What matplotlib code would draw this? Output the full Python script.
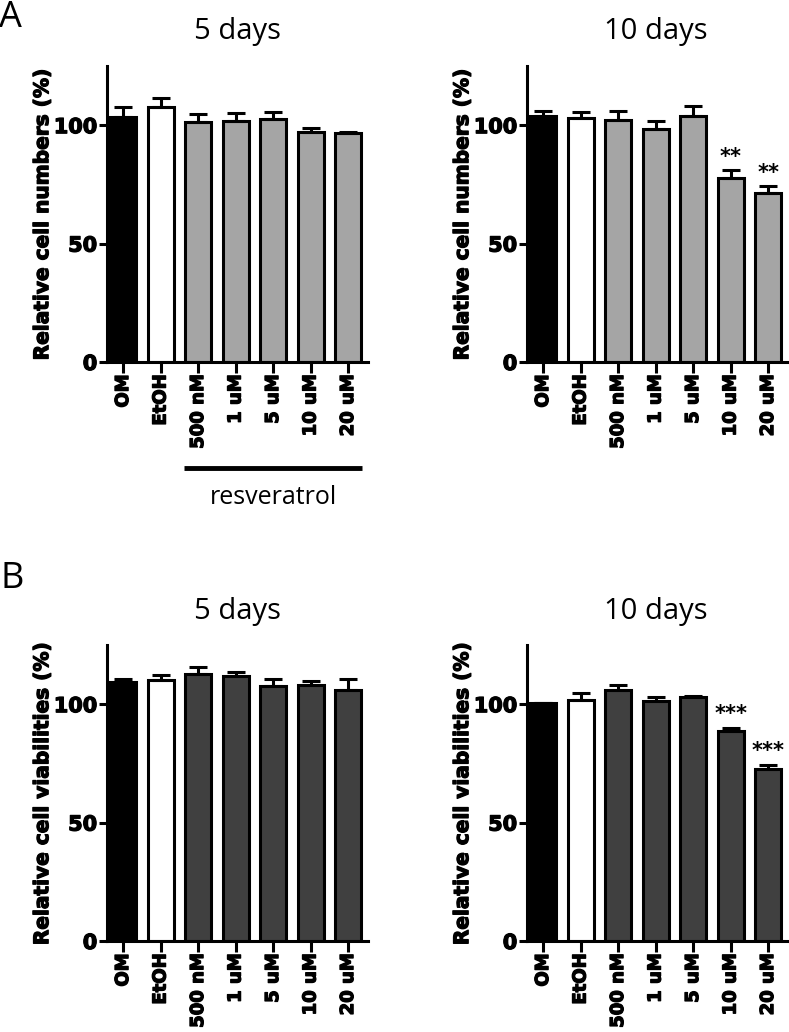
import matplotlib
matplotlib.use('Agg')
import matplotlib.pyplot as plt
import matplotlib.transforms as mtransforms
import matplotlib.patheffects as pe

groups = ['OM', 'EtOH', '500 nM', '1 uM', '5 uM', '10 uM', '20 uM']

num5_mean = [103.3, 107.7, 101.4, 101.7, 102.7, 97.0, 96.5]
num5_err = [4.2, 3.6, 3.5, 3.5, 2.7, 2.0, 0.8]
num10_mean = [103.7, 103.2, 102.2, 98.3, 103.9, 77.8, 71.2]
num10_err = [2.4, 2.2, 3.6, 3.4, 4.2, 3.1, 3.1]
num10_sig = ['', '', '', '', '', '**', '**']

via5_mean = [109.2, 110.3, 112.7, 112.0, 107.8, 108.3, 106.1]
via5_err = [1.4, 2.0, 2.8, 1.6, 2.8, 1.4, 4.5]
via10_mean = [100.4, 101.7, 105.9, 101.4, 103.1, 88.6, 72.7]
via10_err = [0.3, 3.2, 2.4, 1.7, 0.2, 1.4, 1.7]
via10_sig = ['', '', '', '', '', '***', '***']

BOLD = 'DejaVu Sans'
REG = 'Open Sans'
W, H = 789, 1032
heavy = [pe.withStroke(linewidth=0.9, foreground='black')]


def bar_panel(ax, means, errs, treat_color, ylabel, sig=None):
    colors = ['black', 'white'] + [treat_color] * (len(means) - 2)
    x = list(range(len(means)))
    ax.bar(x, means, width=0.7, color=colors, edgecolor='black', linewidth=2.2, zorder=2)
    ax.errorbar(x, means, yerr=[[0] * len(errs), errs], fmt='none', ecolor='black',
                elinewidth=2.2, capsize=6.5, capthick=2.2, zorder=3)
    ax.set_xlim(-0.43, 6.53)
    ax.set_ylim(0, 125)
    ax.set_yticks([0, 50, 100])
    ax.set_xticks(x)
    ax.set_xticklabels(groups, rotation=90, fontfamily=BOLD, fontweight='bold', fontsize=13)
    for lab in ax.get_yticklabels():
        lab.set_fontfamily(BOLD)
        lab.set_fontweight('bold')
        lab.set_fontsize(15)
    for lab in ax.get_xticklabels() + ax.get_yticklabels():
        lab.set_path_effects(heavy)
    ax.spines['top'].set_visible(False)
    ax.spines['right'].set_visible(False)
    ax.spines['left'].set_linewidth(2.2)
    ax.spines['bottom'].set_linewidth(2.2)
    ax.tick_params(axis='both', width=2.2, length=6, pad=1)
    ax.tick_params(axis='x', length=8)
    ax.set_ylabel(ylabel, fontfamily=BOLD, fontweight='bold', fontsize=14.5,
                  path_effects=heavy)
    ax.yaxis.set_label_coords(-0.21, 0.5)
    if sig:
        for i, s in enumerate(sig):
            if s:
                ax.text(i, means[i] + errs[i] + 1.5, s, ha='center', va='bottom',
                        fontfamily=BOLD, fontweight='bold', fontsize=15)


fig = plt.figure(figsize=(W / 100, H / 100), dpi=100)

aw = 261 / W
ah = 296 / H
ax1 = fig.add_axes([107 / W, 1 - 362 / H, aw, ah])
ax2 = fig.add_axes([527 / W, 1 - 362 / H, aw, ah])
ax3 = fig.add_axes([107 / W, 1 - 941 / H, aw, ah])
ax4 = fig.add_axes([527 / W, 1 - 941 / H, aw, ah])

bar_panel(ax1, num5_mean, num5_err, '#a5a5a5', 'Relative cell numbers (%)')
bar_panel(ax2, num10_mean, num10_err, '#a5a5a5', 'Relative cell numbers (%)', num10_sig)
bar_panel(ax3, via5_mean, via5_err, '#404040', 'Relative cell viabilities (%)')
bar_panel(ax4, via10_mean, via10_err, '#404040', 'Relative cell viabilities (%)', via10_sig)

# titles and panel letters
for xc, yc, txt in [(237, 32, '5 days'), (656, 32, '10 days'),
                    (237, 612, '5 days'), (656, 612, '10 days')]:
    fig.text(xc / W, 1 - yc / H, txt, ha='center', va='center', fontfamily=REG, fontsize=21)
fig.text(-1 / W, 1 - 27 / H, 'A', ha='left', va='baseline', fontfamily=REG, fontsize=26)
fig.text(1 / W, 1 - 588 / H, 'B', ha='left', va='baseline', fontfamily=REG, fontsize=26)

# resveratrol bracket under treatment groups
trans = mtransforms.blended_transform_factory(ax1.transData, fig.transFigure)
ax1.plot([2 - 0.37, 6 + 0.37], [1 - 468 / H, 1 - 468 / H], transform=trans,
         color='black', linewidth=3.5, clip_on=False, solid_capstyle='butt')
ax1.text(4, 1 - 497 / H, 'resveratrol', transform=trans, ha='center', va='center',
         fontfamily=REG, fontsize=18)

plt.savefig('out.png', dpi=100)
plt.close()
